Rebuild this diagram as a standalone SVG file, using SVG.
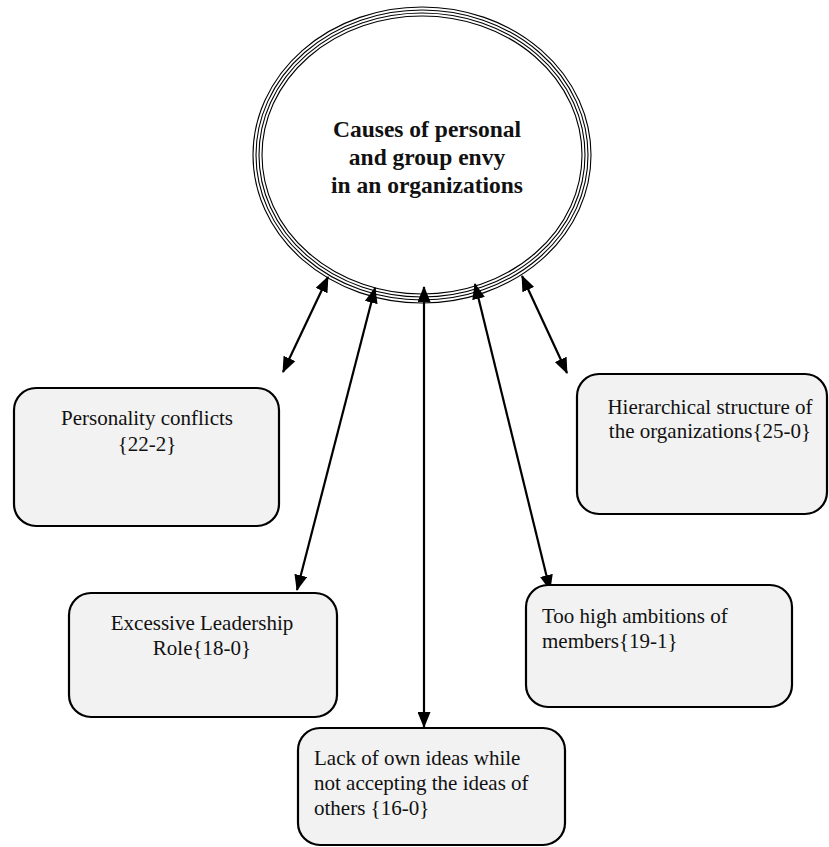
<svg xmlns="http://www.w3.org/2000/svg" width="829" height="847" viewBox="0 0 829 847">
<style>
.box{fill:#f2f2f2;stroke:#000;stroke-width:2.2}
.ring{fill:none;stroke:#000;stroke-width:1.1}
.t{font-family:"Liberation Serif","Times New Roman",serif;font-size:21px;fill:#111}
.title{font-family:"Liberation Serif","Times New Roman",serif;font-size:23.5px;font-weight:bold;fill:#111}
.conn{stroke:#000;stroke-width:2.2;fill:none;marker-start:url(#ah);marker-end:url(#ah)}
</style>
<defs>
<marker id="ah" viewBox="0 0 16 13" refX="15" refY="6.5" markerWidth="16" markerHeight="13" markerUnits="userSpaceOnUse" orient="auto-start-reverse">
<path d="M0,0 L16,6.5 L0,13 Z" fill="#000"/>
</marker>
</defs>
<rect width="829" height="847" fill="#fff"/>
<g id="center">
<ellipse class="ring" cx="422" cy="155" rx="169" ry="148"/>
<ellipse class="ring" cx="422" cy="155" rx="166" ry="145"/>
<ellipse class="ring" cx="422" cy="155" rx="163" ry="142"/>
<ellipse class="ring" cx="422" cy="155" rx="160" ry="139"/>
<ellipse cx="422" cy="155" rx="158.5" ry="137.5" fill="#fff"/>
<text class="title" text-anchor="middle" x="427" y="137">Causes of personal</text>
<text class="title" text-anchor="middle" x="427" y="165">and group envy</text>
<text class="title" text-anchor="middle" x="427" y="193">in an organizations</text>
</g>
<g id="connectors">
<line class="conn" x1="328" y1="277" x2="283" y2="372"/>
<line class="conn" x1="375" y1="288" x2="297" y2="590"/>
<line class="conn" x1="424" y1="287" x2="424" y2="727"/>
<line class="conn" x1="475" y1="284" x2="550" y2="590"/>
<line class="conn" x1="522" y1="276" x2="567" y2="373"/>
</g>
<g id="personality">
<rect class="box" x="14" y="388" width="265" height="138" rx="22"/>
<text class="t" text-anchor="middle" x="147" y="425">Personality conflicts</text>
<text class="t" text-anchor="middle" x="147" y="451">{22-2}</text>
</g>
<g id="hierarchical">
<rect class="box" x="577" y="374" width="250" height="140" rx="22"/>
<text class="t" text-anchor="middle" x="710" y="414">Hierarchical structure of</text>
<text class="t" text-anchor="middle" x="710" y="438">the organizations{25-0}</text>
</g>
<g id="leadership">
<rect class="box" x="69" y="593" width="268" height="124" rx="22"/>
<text class="t" text-anchor="middle" x="202" y="630">Excessive Leadership</text>
<text class="t" text-anchor="middle" x="202" y="655">Role{18-0}</text>
</g>
<g id="ambitions">
<rect class="box" x="526" y="585" width="266" height="122" rx="22"/>
<text class="t" x="542" y="623">Too high ambitions of</text>
<text class="t" x="542" y="648">members{19-1}</text>
</g>
<g id="ideas">
<rect class="box" x="298" y="728" width="267" height="117" rx="22"/>
<text class="t" x="314" y="765">Lack of own ideas while</text>
<text class="t" x="314" y="790">not accepting the ideas of</text>
<text class="t" x="314" y="815">others {16-0}</text>
</g>
</svg>
